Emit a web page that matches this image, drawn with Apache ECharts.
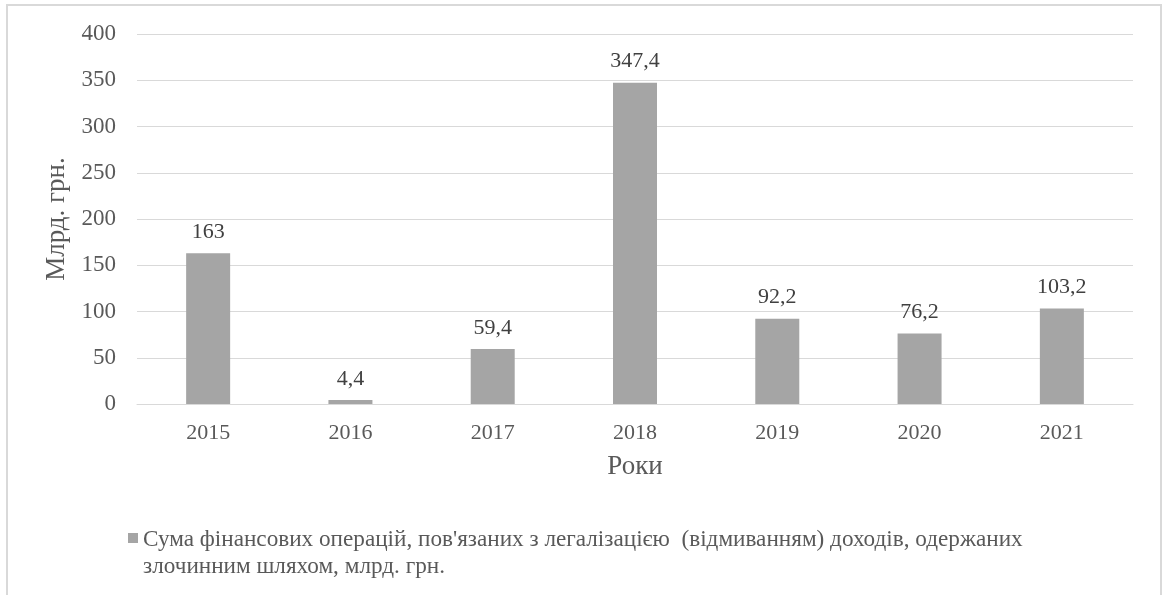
<!DOCTYPE html>
<html>
<head>
<meta charset="utf-8">
<style>
  html, body { margin: 0; padding: 0; background: #ffffff; }
  #chart { width: 1166px; height: 595px; }
</style>
<script src="https://cdn.jsdelivr.net/npm/echarts@6/dist/echarts.min.js"></script>
</head>
<body>
<div id="chart"></div>
<script>
// Years on the category axis
const years = ['2015', '2016', '2017', '2018', '2019', '2020', '2021'];
// Amounts, billion UAH
const amounts = [163, 4.4, 59.4, 347.4, 92.2, 76.2, 103.2];
// Value axis range
const yMin = 0;
const yMax = 400;
const yStep = 50;
// Text
const yName = 'Млрд. грн.';
const xName = 'Роки';
const legendLines = [
  'Сума фінансових операцій, пов\'язаних з легалізацією  (відмиванням) доходів, одержаних',
  'злочинним шляхом, млрд. грн.'
];
const seriesName = legendLines.join(' ');

const FONT = "'Liberation Serif', 'Times New Roman', serif";

const chart = echarts.init(document.getElementById('chart'), null, { renderer: 'canvas' });

chart.setOption({
  backgroundColor: '#ffffff',
  animation: false,
  textStyle: { fontFamily: FONT },
  graphic: [{
    type: 'rect',
    silent: true,
    shape: { x: 7, y: 5, width: 1154, height: 620 },
    style: { fill: 'none', stroke: '#d9d9d9', lineWidth: 2 }
  }],
  grid: { left: 137, right: 33, top: 34, bottom: 191, containLabel: false },
  legend: {
    show: true,
    left: 128,
    top: 526,
    padding: 0,
    itemWidth: 10,
    itemHeight: 54,
    // square sits beside the first line of the two-line legend text
    icon: 'path://M0,0h0.05v0.05h-0.05Z M0,7h10v10h-10Z M9.95,54h0.05v-0.05h-0.05Z',
    data: [seriesName],
    formatter: () => legendLines.join('\n'),
    textStyle: { fontFamily: FONT, fontSize: 23.2, color: '#595959', lineHeight: 27 }
  },
  xAxis: {
    type: 'category',
    data: years,
    name: xName,
    nameLocation: 'middle',
    nameGap: 49,
    nameTextStyle: { fontFamily: FONT, fontSize: 27, color: '#595959' },
    axisLine: { show: true, lineStyle: { color: '#d9d9d9', width: 1 } },
    axisTick: { show: false },
    axisLabel: { margin: 18, fontFamily: FONT, fontSize: 22, color: '#595959' }
  },
  yAxis: {
    type: 'value',
    min: yMin,
    max: yMax,
    interval: yStep,
    name: yName,
    nameLocation: 'middle',
    nameGap: 66,
    nameRotate: 90,
    nameTextStyle: { fontFamily: FONT, fontSize: 27, color: '#595959' },
    axisLine: { show: false },
    axisTick: { show: false },
    axisLabel: { margin: 21, fontFamily: FONT, fontSize: 23, color: '#595959' },
    splitLine: { show: true, lineStyle: { color: '#d9d9d9', width: 1 } }
  },
  series: [{
    name: seriesName,
    type: 'bar',
    data: amounts,
    barWidth: 44,
    itemStyle: { color: '#a5a5a5' },
    label: {
      show: true,
      position: 'top',
      distance: 10,
      fontFamily: FONT,
      fontSize: 22,
      color: '#404040',
      formatter: p => String(p.value).replace('.', ',')
    }
  }]
});
</script>
</body>
</html>
